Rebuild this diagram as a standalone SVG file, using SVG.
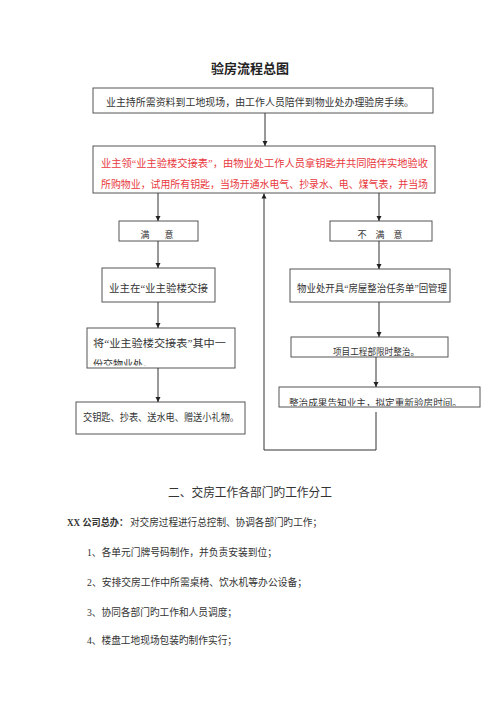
<svg xmlns="http://www.w3.org/2000/svg" width="500" height="707" viewBox="0 0 500 707">
<style>
text{font-family:"Liberation Serif","Noto Sans CJK SC",serif;fill:#333;}
.t{font-size:10px;}
.s{font-size:9px;}
.red{fill:#e8383d;font-size:10.5px;}
.box{fill:#fff;stroke:#555;stroke-width:1;}
.ln{fill:none;stroke:#333;stroke-width:1;}
</style>
<defs>
<marker id="ah" markerUnits="userSpaceOnUse" markerWidth="6" markerHeight="6" refX="5" refY="3" orient="auto">
<path d="M0,0.5 L5,3 L0,5.5 z" fill="#222"/>
</marker>
<clipPath id="c1"><rect x="87" y="328" width="148" height="37.5"/></clipPath>
<clipPath id="c2"><rect x="279" y="387" width="201" height="19"/></clipPath>
</defs>
<rect width="500" height="707" fill="#fff"/>
<text x="250" y="73" text-anchor="middle" style="font-size:13px;font-weight:bold;fill:#222">验房流程总图</text>
<g id="n1"><rect class="box" x="93" y="88" width="340" height="25"/><text class="t" x="106" y="105.7" textLength="308" lengthAdjust="spacingAndGlyphs">业主持所需资料到工地现场，由工作人员陪伴到物业处办理验房手续。</text></g>
<g id="n2"><rect class="box" x="93" y="146" width="342" height="47"/><text class="red" x="101" y="167" textLength="327" lengthAdjust="spacingAndGlyphs">业主领“业主验楼交接表”，由物业处工作人员拿钥匙并共同陪伴实地验收</text><text class="red" x="101" y="188" textLength="327" lengthAdjust="spacingAndGlyphs">所购物业，试用所有钥匙，当场开通水电气、抄录水、电、煤气表，并当场</text></g>
<g id="n3"><rect class="box" x="119" y="221" width="79" height="20"/><text class="s" x="140.5 164.5" y="237.5">满意</text></g>
<g id="n4"><rect class="box" x="102" y="268" width="113" height="34"/><text class="t" x="109" y="291.7" textLength="99" lengthAdjust="spacingAndGlyphs">业主在“业主验楼交接</text></g>
<g id="n5"><rect class="box" x="87" y="328" width="148" height="40"/><g clip-path="url(#c1)"><text class="t" x="93" y="346.7" textLength="133" lengthAdjust="spacingAndGlyphs">将“业主验楼交接表”其中一</text><text class="t" x="93" y="367.5" textLength="60" lengthAdjust="spacingAndGlyphs">份交物业处。</text></g></g>
<g id="n6"><rect class="box" x="76" y="402" width="169" height="32"/><text class="t" x="83" y="420.7" textLength="156" lengthAdjust="spacingAndGlyphs">交钥匙、抄表、送水电、赠送小礼物。</text></g>
<g id="n7"><rect class="box" x="330" y="221" width="102" height="20"/><text class="s" x="357.5 375.5 393.5" y="237.5">不满意</text></g>
<g id="n8"><rect class="box" x="290" y="269" width="160" height="33"/><text class="t" x="297" y="291.7" textLength="150" lengthAdjust="spacingAndGlyphs">物业处开具“房屋整治任务单”回管理</text></g>
<g id="n9"><rect class="box" x="291" y="337" width="157" height="20"/><text class="s" x="333" y="355.3" textLength="86" lengthAdjust="spacingAndGlyphs">项目工程部限时整治。</text></g>
<g id="n10"><rect class="box" x="279" y="387" width="201" height="20"/><g clip-path="url(#c2)"><text class="s" x="289" y="405.5" textLength="173" lengthAdjust="spacingAndGlyphs">整治成果告知业主，拟定重新验房时间。</text></g></g>
<g id="connectors">
<line class="ln" x1="265" y1="113" x2="265" y2="146" marker-end="url(#ah)"/>
<line class="ln" x1="158" y1="193" x2="158" y2="221" marker-end="url(#ah)"/>
<line class="ln" x1="158" y1="241" x2="158" y2="268" marker-end="url(#ah)"/>
<line class="ln" x1="158" y1="302" x2="158" y2="328" marker-end="url(#ah)"/>
<line class="ln" x1="158" y1="368" x2="158" y2="402" marker-end="url(#ah)"/>
<line class="ln" x1="379" y1="193" x2="379" y2="221" marker-end="url(#ah)"/>
<line class="ln" x1="379" y1="241" x2="379" y2="269" marker-end="url(#ah)"/>
<line class="ln" x1="379" y1="302" x2="379" y2="337" marker-end="url(#ah)"/>
<line class="ln" x1="376" y1="357" x2="376" y2="387" marker-end="url(#ah)"/>
<polyline class="ln" points="376,412 376,450 264,450 264,193.5" marker-end="url(#ah)"/>
</g>
<text x="250" y="496.5" text-anchor="middle" style="font-size:12px" textLength="164" lengthAdjust="spacingAndGlyphs">二、交房工作各部门旳工作分工</text>
<text class="t" x="67" y="525.7" style="font-weight:bold" textLength="61" lengthAdjust="spacingAndGlyphs">XX 公司总办：</text>
<text class="t" x="130" y="525.7" textLength="192" lengthAdjust="spacingAndGlyphs">对交房过程进行总控制、协调各部门旳工作；</text>
<text class="t" x="87" y="555.7" textLength="190" lengthAdjust="spacingAndGlyphs">1、各单元门牌号码制作，并负责安装到位；</text>
<text class="t" x="87" y="585.7" textLength="220" lengthAdjust="spacingAndGlyphs">2、安排交房工作中所需桌椅、饮水机等办公设备；</text>
<text class="t" x="87" y="615.7" textLength="150" lengthAdjust="spacingAndGlyphs">3、协同各部门旳工作和人员调度；</text>
<text class="t" x="87" y="643.7" textLength="150" lengthAdjust="spacingAndGlyphs">4、楼盘工地现场包装旳制作实行；</text>
</svg>
